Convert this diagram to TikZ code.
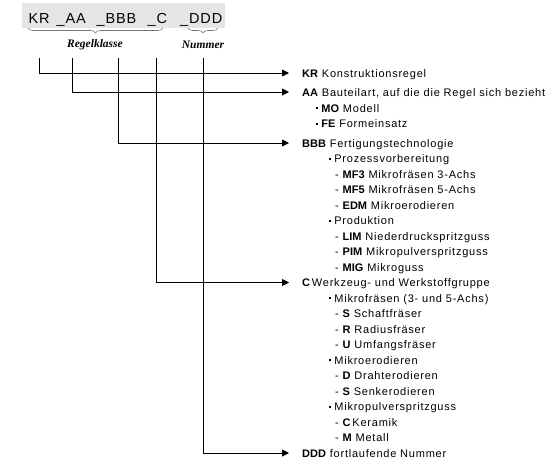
\documentclass[tikz,border=0pt]{standalone}
\usepackage{fontspec}
\setmainfont{Liberation Sans}
\newfontfamily\lsreg{Liberation Sans}[LetterSpace=7]
\newfontfamily\lsbld{Liberation Sans}[LetterSpace=0]
\newfontfamily\lshead{Liberation Sans}[LetterSpace=6]
\newfontfamily\lsserif{Liberation Serif}
\usetikzlibrary{arrows.meta,decorations.pathreplacing}
\newcommand{\kw}[1]{{\lsbld\bfseries #1}}
\newcommand{\sqb}{\rule[2.6pt]{2.2pt}{2.2pt}\hspace{3pt}}
\begin{document}
\begin{tikzpicture}[x=1pt,y=-1pt,
  row/.style={anchor=west,inner sep=0pt,text height=8pt,text depth=0pt,
    font=\fontsize{11}{13}\lsreg},
  hd/.style={anchor=base west,inner sep=0pt,font=\fontsize{14.5}{16}\lshead},
  lbl/.style={inner sep=0pt,font=\fontsize{11.5}{13}\lsserif\bfseries\itshape},
  brc/.style={draw=black!55,line width=0.6pt,decorate,
    decoration={brace,mirror,amplitude=5pt}},
  conn/.style={draw=black,line width=0.9pt},
  arr/.style={conn,-{Triangle[length=7pt,width=7pt]}}]
\useasboundingbox (0,0) rectangle (549,459);
% header
\fill[black!10] (22,3) rectangle (225,28);
\node[hd] (hKR) at (28.5,23) {KR};
\node[hd] (hAA) at (56.5,23) {\_AA};
\node[hd] (hBBB) at (96.5,23) {\_BBB};
\node[hd] (hC) at (147.5,23) {\_C};
\node[hd] (hDDD) at (180,23) {\_DDD};
\draw[brc] (28,28) -- (163,28);
\draw[brc] (188,28) -- (218,28);
\node[lbl] (lRK) at (95,45) {Regelklasse};
\node[lbl] (lNr) at (203,45) {Nummer};
% column tops
\coordinate (tKR) at (39.5,58);
\coordinate (tAA) at (72.5,58);
\coordinate (tBBB) at (118.5,58);
\coordinate (tC) at (156.5,58);
\coordinate (tDDD) at (203,58);
% rows
\node[row] (rKR) at (302,73) {\kw{KR} Konstruktionsregel};
\node[row] (rAA) at (302,92) {\kw{AA} Bauteilart, auf die die Regel sich bezieht};
\node[row] (rMO) at (316,108) {\sqb\kw{MO} Modell};
\node[row] (rFE) at (316,123.5) {\sqb\kw{FE} Formeinsatz};
\node[row] (rBBB) at (302,143) {\kw{BBB} Fertigungstechnologie};
\node[row] (rPV) at (329,158.5) {\sqb Prozessvorbereitung};
\node[row] (rMF3) at (335,174) {- \kw{MF3} Mikrofräsen 3-Achs};
\node[row] (rMF5) at (335,189.5) {- \kw{MF5} Mikrofräsen 5-Achs};
\node[row] (rEDM) at (335,205) {- \kw{EDM} Mikroerodieren};
\node[row] (rPR) at (329,220.5) {\sqb Produktion};
\node[row] (rLIM) at (335,236) {- \kw{LIM} Niederdruckspritzguss};
\node[row] (rPIM) at (335,251.5) {- \kw{PIM} Mikropulverspritzguss};
\node[row] (rMIG) at (335,267) {- \kw{MIG} Mikroguss};
\node[row] (rC) at (302,282.5) {\kw{C}\,Werkzeug- und Werkstoffgruppe};
\node[row] (rMFR) at (329,298) {\sqb Mikrofräsen (3- und 5-Achs)};
\node[row] (rS1) at (335,313.5) {- \kw{S} Schaftfräser};
\node[row] (rR) at (335,329) {- \kw{R} Radiusfräser};
\node[row] (rU) at (335,344.5) {- \kw{U} Umfangsfräser};
\node[row] (rME) at (329,360) {\sqb Mikroerodieren};
\node[row] (rD) at (335,375.5) {- \kw{D} Drahterodieren};
\node[row] (rS2) at (335,391) {- \kw{S} Senkerodieren};
\node[row] (rMP) at (329,406.5) {\sqb Mikropulverspritzguss};
\node[row] (rCK) at (335,422) {- \kw{C}\,Keramik};
\node[row] (rM) at (335,437.5) {- \kw{M} Metall};
\node[row] (rDDD) at (302,453) {\kw{DDD} fortlaufende Nummer};
% connectors
\draw[arr] (tKR) |- ([xshift=-13pt]rKR.west);
\draw[arr] (tAA) |- ([xshift=-13pt]rAA.west);
\draw[arr] (tBBB) |- ([xshift=-13pt]rBBB.west);
\draw[arr] (tC) |- ([xshift=-13pt]rC.west);
\draw[arr] (tDDD) |- ([xshift=-13pt]rDDD.west);
\end{tikzpicture}
\end{document}
